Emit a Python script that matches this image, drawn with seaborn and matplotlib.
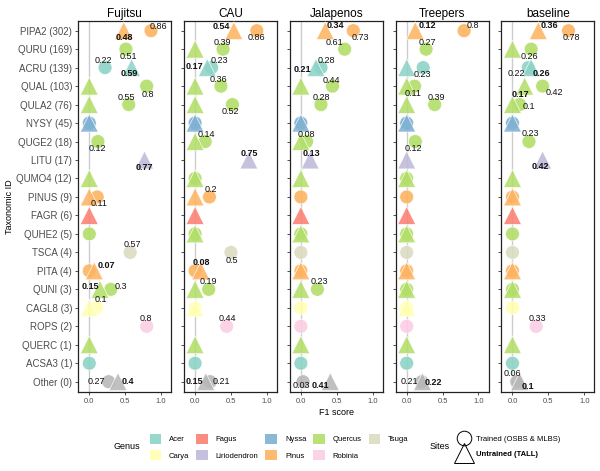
import matplotlib
matplotlib.use('Agg')
import matplotlib.pyplot as plt
from matplotlib.patches import Patch
from matplotlib.lines import Line2D
import numpy as np
import pandas as pd
import seaborn as sns

# species rows (top to bottom) with sample counts and genus
species = ['PIPA2', 'QURU', 'ACRU', 'QUAL', 'QULA2', 'NYSY', 'QUGE2', 'LITU', 'QUMO4', 'PINUS',
           'FAGR', 'QUHE2', 'TSCA', 'PITA', 'QUNI', 'CAGL8', 'ROPS', 'QUERC', 'ACSA3', 'Other']
counts = [302, 169, 139, 103, 76, 45, 18, 17, 12, 9, 6, 5, 4, 4, 3, 3, 2, 1, 1, 0]
genus = ['Pinus', 'Quercus', 'Acer', 'Quercus', 'Quercus', 'Nyssa', 'Quercus', 'Liriodendron', 'Quercus', 'Pinus',
         'Fagus', 'Quercus', 'Tsuga', 'Pinus', 'Quercus', 'Carya', 'Robinia', 'Quercus', 'Acer', 'Other']

sites = ['Fujitsu', 'CAU', 'Jalapenos', 'Treepers', 'baseline']
N = None

# F1 scores, trained sites (OSBS & MLBS) -> circles
trained = {
    'Fujitsu':   [0.86, 0.51, 0.22, 0.8, 0.55, 0, 0.12, N, N, 0.11, N, 0, 0.57, 0, 0.3, 0.1, 0.8, N, 0, 0.27],
    'CAU':       [0.86, 0.39, 0.23, 0.36, 0.52, 0, 0.14, N, 0, 0.2, N, 0, 0.5, 0, 0.19, 0, 0.44, N, 0, 0.21],
    'Jalapenos': [0.73, 0.61, 0.28, 0.44, 0.28, 0, 0.08, N, N, 0, N, 0, 0, 0, 0.23, 0, 0, N, 0, 0.03],
    'Treepers':  [0.8, 0.27, 0.23, 0.11, 0.39, 0, 0.12, N, 0, 0, N, 0, 0, 0, 0, 0, 0, N, 0, 0.21],
    'baseline':  [0.78, 0.26, 0.22, 0.42, 0.1, 0, 0.23, N, N, 0, N, 0, 0, 0, 0, 0, 0.33, N, 0, 0.06],
}
# F1 scores, untrained site (TALL) -> triangles
untrained = {
    'Fujitsu':   [0.48, N, 0.59, 0, 0, 0, N, 0.77, 0, 0, 0, N, N, 0.07, 0.15, 0, N, 0, N, 0.4],
    'CAU':       [0.54, 0, 0.17, 0, 0, 0, 0, 0.75, 0, 0, 0, 0, N, 0.08, 0, 0, N, 0, N, 0.15],
    'Jalapenos': [0.34, N, 0.21, 0, N, 0, 0, 0.13, 0, N, 0, 0, N, 0, 0, N, N, 0, N, 0.41],
    'Treepers':  [0.12, N, 0, 0, 0, 0, N, 0, 0, N, 0, 0, N, 0, 0, 0, N, 0, N, 0.22],
    'baseline':  [0.36, 0, 0.26, 0.17, 0, 0, N, 0.42, 0, 0, 0, N, N, 0, 0, N, N, 0, N, 0.1],
}

genus_order = ['Acer', 'Carya', 'Fagus', 'Liriodendron', 'Nyssa', 'Pinus', 'Quercus', 'Robinia', 'Tsuga']
palette = {'Acer': '#8DD3C7', 'Carya': '#FFFFB3', 'Fagus': '#FB8072', 'Liriodendron': '#BEBADA',
           'Nyssa': '#80B1D3', 'Pinus': '#FDB462', 'Quercus': '#B3DE69', 'Robinia': '#FCCDE5',
           'Tsuga': '#DCDCC2', 'Other': '#B8B8B8'}

# label nudges in pixels (dx, dy; dy down), mimicking the repelled labels
nudge = {
    ('Fujitsu', 'PIPA2', 'c'): (7, -4), ('Fujitsu', 'PIPA2', 't'): (1, 7), ('Fujitsu', 'QURU', 'c'): (2, 7),
    ('Fujitsu', 'ACRU', 'c'): (-2, -7), ('Fujitsu', 'ACRU', 't'): (-2, 6), ('Fujitsu', 'QUAL', 'c'): (1, 8),
    ('Fujitsu', 'QULA2', 'c'): (-2, -7), ('Fujitsu', 'QUGE2', 'c'): (-1, 7), ('Fujitsu', 'LITU', 't'): (0, 7),
    ('Fujitsu', 'PINUS', 'c'): (2, 7), ('Fujitsu', 'TSCA', 'c'): (2, -8), ('Fujitsu', 'PITA', 't'): (12, -5),
    ('Fujitsu', 'QUNI', 't'): (-10, -3), ('Fujitsu', 'QUNI', 'c'): (10, -3), ('Fujitsu', 'CAGL8', 'c'): (4, -8),
    ('Fujitsu', 'ROPS', 'c'): (-1, -8), ('Fujitsu', 'Other', 'c'): (-12, 0), ('Fujitsu', 'Other', 't'): (10, 0),
    ('CAU', 'PIPA2', 't'): (-13, -4), ('CAU', 'PIPA2', 'c'): (0, 7), ('CAU', 'QURU', 'c'): (-1, -7),
    ('CAU', 'ACRU', 't'): (-13, -1), ('CAU', 'ACRU', 'c'): (8, -7), ('CAU', 'QUAL', 'c'): (-2, -7),
    ('CAU', 'QULA2', 'c'): (-2, 7), ('CAU', 'QUGE2', 'c'): (1, -7), ('CAU', 'LITU', 't'): (0, -7),
    ('CAU', 'PINUS', 'c'): (1, -7), ('CAU', 'TSCA', 'c'): (1, 8), ('CAU', 'PITA', 't'): (1, -8),
    ('CAU', 'QUNI', 'c'): (0, -8), ('CAU', 'ROPS', 'c'): (1, -8), ('CAU', 'Other', 't'): (-11, 0),
    ('CAU', 'Other', 'c'): (11, 0),
    ('Jalapenos', 'PIPA2', 't'): (10, -5), ('Jalapenos', 'PIPA2', 'c'): (7, 7), ('Jalapenos', 'QURU', 'c'): (-10, -7),
    ('Jalapenos', 'ACRU', 't'): (-14, 2), ('Jalapenos', 'ACRU', 'c'): (5, -7), ('Jalapenos', 'QUAL', 'c'): (-1, -6),
    ('Jalapenos', 'QULA2', 'c'): (0, -7), ('Jalapenos', 'QUGE2', 'c'): (0, -7), ('Jalapenos', 'LITU', 't'): (1, -7),
    ('Jalapenos', 'QUNI', 'c'): (2, -8), ('Jalapenos', 'Other', 'c'): (-2, 4), ('Jalapenos', 'Other', 't'): (-10, 4),
    ('Treepers', 'PIPA2', 't'): (12, -5), ('Treepers', 'PIPA2', 'c'): (9, -5), ('Treepers', 'QURU', 'c'): (1, -7),
    ('Treepers', 'ACRU', 'c'): (-1, 7), ('Treepers', 'QUAL', 'c'): (-2, 7), ('Treepers', 'QULA2', 'c'): (2, -7),
    ('Treepers', 'QUGE2', 'c'): (-2, 7), ('Treepers', 'Other', 'c'): (-12, 0), ('Treepers', 'Other', 't'): (11, 1),
    ('baseline', 'PIPA2', 't'): (11, -5), ('baseline', 'PIPA2', 'c'): (3, 7), ('baseline', 'QURU', 'c'): (-2, 7),
    ('baseline', 'ACRU', 'c'): (-12, 6), ('baseline', 'ACRU', 't'): (10, 6), ('baseline', 'QUAL', 't'): (-4, 8),
    ('baseline', 'QUAL', 'c'): (12, 6), ('baseline', 'QULA2', 'c'): (9, 2), ('baseline', 'QUGE2', 'c'): (1, -8),
    ('baseline', 'LITU', 't'): (-2, 6), ('baseline', 'ROPS', 'c'): (1, -8), ('baseline', 'Other', 'c'): (-4, -8),
    ('baseline', 'Other', 't'): (8, 5),
}

# long table
rows = []
for site in sites:
    for kind, src in (('Trained', trained), ('Untrained', untrained)):
        for i, sp in enumerate(species):
            v = src[site][i]
            if v is None:
                continue
            rows.append({'site': site, 'species': sp, 'row': i, 'genus': genus[i], 'kind': kind, 'f1': v})
df = pd.DataFrame(rows)

plt.rcParams['font.family'] = ['Liberation Sans', 'DejaVu Sans']

fig = plt.figure(figsize=(6, 4.71), dpi=100)
axes = fig.subplots(1, 5, sharey=True)
fig.subplots_adjust(left=0.1305, right=0.9905, top=0.956, bottom=0.1684, wspace=0.14)

for ax, site in zip(axes, sites):
    ax.axvline(0, color='#CCCCCC', lw=1.0, zorder=0)
    sub = df[df.site == site]
    cir = sub[sub.kind == 'Trained']
    tri = sub[sub.kind == 'Untrained']
    sns.scatterplot(data=cir, x='f1', y='row', hue='genus', palette=palette, marker='o', s=100,
                    alpha=0.9, edgecolor='white', linewidth=0.5, legend=False, ax=ax, zorder=2)
    sns.scatterplot(data=tri, x='f1', y='row', hue='genus', palette=palette, marker='^', s=165,
                    alpha=0.88, edgecolor='white', linewidth=0.5, legend=False, ax=ax, zorder=3)
    for _, r in sub[sub.f1 > 0].iterrows():
        k = 't' if r.kind == 'Untrained' else 'c'
        dx, dy = nudge.get((site, r.species, k), (0, 7))
        ax.annotate(f"{r.f1:g}", (r.f1, r.row), xytext=(dx * 0.72, -dy * 0.72), textcoords='offset points',
                    ha='center', va='center', fontsize=6.5, color='#111111',
                    fontweight='bold' if k == 't' else 'normal', zorder=5)
    ax.set_xlim(-0.153, 1.14)
    ax.set_ylim(len(species) - 0.46, -0.54)
    ax.set_xticks([0, 0.5, 1.0])
    ax.set_xticklabels(['0.0', '0.5', '1.0'])
    ax.tick_params(axis='x', labelsize=5.5, labelcolor='#4D4D4D', length=2.5, width=0.6, color='#333333', pad=2)
    ax.tick_params(axis='y', labelsize=7, labelcolor='#4D4D4D', length=2.5, width=0.6, color='#333333', pad=2)
    for sp in ax.spines.values():
        sp.set_color('#222222')
        sp.set_linewidth(0.9)
    ax.set_title(site, fontsize=8.5, pad=3)
    ax.set_xlabel('')
    ax.set_ylabel('')

axes[0].set_yticks(range(len(species)))
axes[0].set_yticklabels([f"{s} ({c})" for s, c in zip(species, counts)])
axes[2].set_xlabel('F1 score', fontsize=6.5, labelpad=2)
fig.text(0.016, 0.561, 'Taxonomic ID', rotation=90, ha='center', va='center', fontsize=6.5)

# genus legend
handles = [Patch(facecolor=palette[g], edgecolor='none', alpha=0.9) for g in genus_order]
leg1 = fig.legend(handles, genus_order, ncol=5, loc='center left', bbox_to_anchor=(0.243, 0.051),
                  frameon=False, fontsize=5.5, handlelength=1.55, handleheight=1.55,
                  handletextpad=1.0, labelspacing=0.9, columnspacing=0.9, borderpad=0)
fig.text(0.212, 0.051, 'Genus', ha='center', va='center', fontsize=6.5)

# sites legend
shapes = [Line2D([], [], marker='o', ls='none', markersize=10.5, markerfacecolor='none',
                 markeredgecolor='black', markeredgewidth=0.7),
          Line2D([], [], marker='^', ls='none', markersize=15, markerfacecolor='none',
                 markeredgecolor='black', markeredgewidth=0.7)]
leg2 = fig.legend(shapes, ['Trained (OSBS & MLBS)', 'Untrained (TALL)'], loc='center left',
                  bbox_to_anchor=(0.755, 0.051), frameon=False, fontsize=5.5, handlelength=1.9,
                  handletextpad=0.6, labelspacing=1.0, borderpad=0)
leg2.get_texts()[1].set_fontweight('bold')
fig.text(0.733, 0.051, 'Sites', ha='center', va='center', fontsize=6.5)

fig.savefig('out.png', dpi=100)
